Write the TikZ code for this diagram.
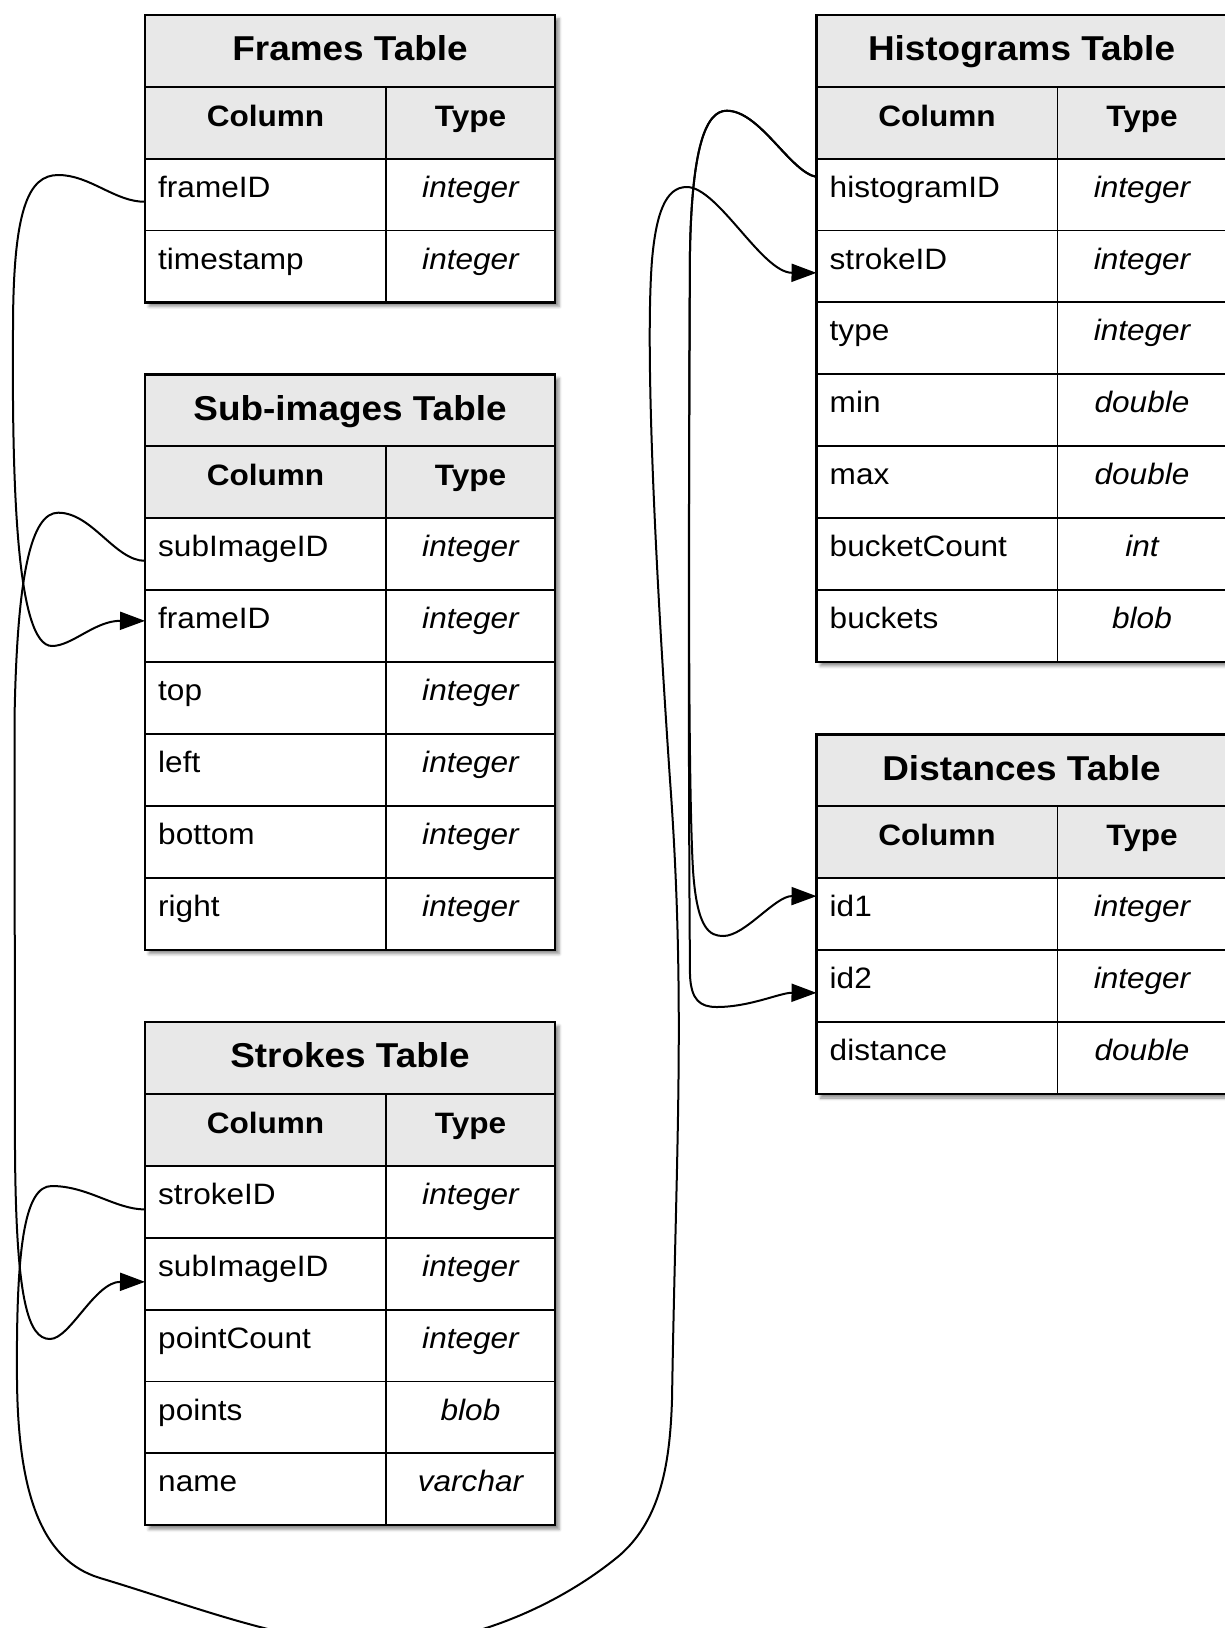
\documentclass[tikz,border=0pt]{standalone}
\usepackage{fontspec}
\setmainfont[FakeStretch=1.07]{Liberation Sans}
\usetikzlibrary{arrows.meta,shadows.blur}
\def\rowh{71.9}
\def\tabw{410}
\def\colw{241}
\tikzset{
  conn/.style={draw, line width=2pt, -{Triangle[length=25pt,width=18pt]}},
  outer/.style={draw, line width=2.3pt},
  inner/.style={draw, line width=1.9pt},
  hdrfill/.style={fill=black!9},
  tabshadow/.style={blur shadow={shadow xshift=4pt, shadow yshift=-4pt, shadow blur radius=3pt, shadow opacity=45}},
  ttl/.style={inner sep=0pt, anchor=base, font=\fontsize{34.5}{40}\selectfont\bfseries},
  hdtxt/.style={inner sep=0pt, anchor=base, font=\fontsize{29.5}{34}\selectfont\bfseries},
  nametxt/.style={inner sep=0pt, anchor=base west, font=\fontsize{29.5}{34}\selectfont},
  typetxt/.style={inner sep=0pt, anchor=base, font=\fontsize{29.5}{34}\selectfont\itshape},
  rowbox/.style={inner sep=0pt, draw=none, minimum width=410pt, minimum height=71.9pt, anchor=north west}
}
\newcommand{\dbtable}[6]{%
\begin{scope}
\pgfmathsetmacro{\tL}{#2}
\pgfmathsetmacro{\tT}{#3}
\pgfmathsetmacro{\tR}{#2+\tabw}
\pgfmathsetmacro{\tD}{#2+\colw}
\pgfmathsetmacro{\tB}{#3+(#5+2)*\rowh}
\pgfmathsetmacro{\tH}{#3+2*\rowh}
\pgfmathsetmacro{\tHa}{#3+\rowh}
\pgfmathtruncatemacro{\tN}{#5+1}
\path[fill=white, tabshadow] (\tL,\tT) rectangle (\tR,\tB);
\fill[hdrfill] (\tL,\tT) rectangle (\tR,\tH);
\foreach \k in {1,...,\tN} {\draw[inner] (\tL,{#3+\k*\rowh}) -- (\tR,{#3+\k*\rowh});}
\draw[inner] (\tD,\tHa) -- (\tD,\tB);
\draw[outer] (\tL,\tT) rectangle (\tR,\tB);
\node[ttl] (#1title) at ({(\tL+\tR)/2},{#3+45.5}) {#4};
\node[hdtxt] (#1hc) at ({(\tL+\tD)/2},{#3+\rowh+39.5}) {Column};
\node[hdtxt] (#1ht) at ({(\tD+\tR)/2},{#3+\rowh+39.5}) {Type};
\foreach \rn/\rt [count=\k from 2] in {#6} {
  \node[rowbox] (#1\k) at (\tL,{#3+\k*\rowh}) {};
  \node[nametxt] (#1n\k) at ({\tL+13},{#3+\k*\rowh+38.5}) {\rn};
  \node[typetxt] (#1t\k) at ({(\tD+\tR)/2},{#3+\k*\rowh+38.5}) {\rt};
}
\end{scope}}
\begin{document}
\begin{tikzpicture}[x=1pt,y=-1pt]
\useasboundingbox (0,0) rectangle (1225,1628);
\dbtable{fr}{145}{14.8}{Frames Table}{2}{frameID/integer,timestamp/integer}
\dbtable{su}{145}{374.5}{Sub-images Table}{6}{subImageID/integer,frameID/integer,top/integer,left/integer,bottom/integer,right/integer}
\dbtable{st}{145}{1022}{Strokes Table}{5}{strokeID/integer,subImageID/integer,pointCount/integer,points/blob,name/varchar}
\dbtable{hi}{816.5}{14.8}{Histograms Table}{7}{histogramID/integer,strokeID/integer,type/integer,min/double,max/double,bucketCount/int,buckets/blob}
\dbtable{di}{816.5}{734.5}{Distances Table}{3}{id1/integer,id2/integer,distance/double}
% Frames.frameID -> Sub-images.frameID
\draw[conn] ([yshift=-7pt]fr2.west) .. controls (115,202) and (90,175) .. (58.3,175)
  .. controls (28,175) and (13,210) .. (13,330)
  .. controls (12,480) and (16,646) .. (52,646)
  .. controls (72,646) and (95,620.7) .. ([yshift=5.5pt]su3.west);
% Sub-images.subImageID -> Strokes.subImageID
\draw[conn] ([yshift=-6.4pt]su2.west) .. controls (115,560.7) and (92,512.7) .. (58.3,512.7)
  .. controls (32,512.7) and (17,570) .. (14.5,720)
  -- (15,1150)
  .. controls (16,1300) and (28,1339) .. (50,1339)
  .. controls (70,1339) and (95,1281.7) .. ([yshift=-8pt]st3.west);
% Strokes.strokeID -> Histograms.strokeID
\draw[conn] ([yshift=-7.5pt]st2.west) .. controls (115,1209.3) and (88,1186) .. (51.7,1186)
  .. controls (24,1186) and (16,1250) .. (17,1380)
  .. controls (18,1490) and (40,1560) .. (100,1578)
  .. controls (200,1608) and (290,1645) .. (384,1645)
  .. controls (470,1645) and (560,1605) .. (620,1555)
  .. controls (662,1518) and (670,1460) .. (672,1400)
  .. controls (676,1150) and (686,1000) .. (670,780)
  .. controls (655,560) and (645,350) .. (652,260)
  .. controls (656,215) and (665,187) .. (686.7,187)
  .. controls (718,187) and (762,272.7) .. ([yshift=-6.2pt]hi3.west);
% Histograms.histogramID -> Distances.id1
\draw[conn] ([yshift=17.8pt]hi2.west) .. controls (790,172) and (760,110.7) .. (726.7,110.7)
  .. controls (705,110.7) and (692,150) .. (690,250)
  .. controls (688,600) and (689,800) .. (693,870)
  .. controls (697,930) and (710,936) .. (723.3,936)
  .. controls (745,936) and (775,896) .. ([yshift=18.3pt]di2.west);
% Histograms.histogramID -> Distances.id2
\draw[conn] ([yshift=17.8pt]hi2.west) .. controls (790,172) and (760,110.7) .. (726.7,110.7)
  .. controls (705,110.7) and (692,150) .. (690,250)
  .. controls (688,600) and (689,850) .. (690,975)
  .. controls (691,1000) and (700,1007) .. (716.7,1007)
  .. controls (750,1007) and (780,992.7) .. ([yshift=-6.5pt]di3.west);
\end{tikzpicture}
\end{document}
